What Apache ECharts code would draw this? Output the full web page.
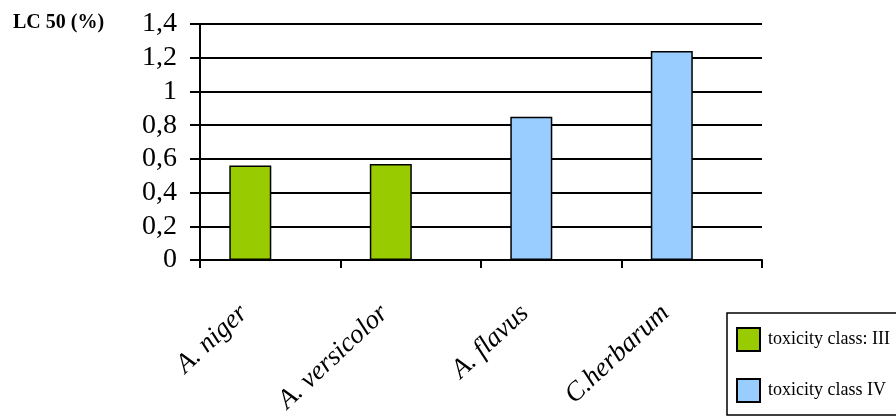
<!DOCTYPE html>
<html>
<head>
    <meta charset="utf-8" />
    <title>LC 50</title>
    <script src="https://cdn.jsdelivr.net/npm/echarts@6/dist/echarts.min.js"></script>
    <style>
        html, body { margin: 0; padding: 0; background: #fff; }
        #chart { width: 896px; height: 419px; }
    </style>
</head>
<body>
    <div id="chart"></div>
    <script>
        // data
        var categories = ['A. niger', 'A. versicolor', 'A. flavus', 'C.herbarum'];
        var classIII = [0.56, 0.57, null, null];
        var classIV = [null, null, 0.85, 1.24];
        var yTicks = { min: 0, max: 1.4, step: 0.2 };

        var serif = "'Liberation Serif', 'Times New Roman', serif";

        var chart = echarts.init(document.getElementById('chart'));
        chart.setOption({
            animation: false,
            title: {
                text: 'LC 50 (%)',
                left: 8,
                top: 8,
                textStyle: { fontFamily: serif, fontSize: 20, fontWeight: 'bold', color: '#000' }
            },
            legend: {
                data: ['toxicity class: III', 'toxicity class IV'],
                orient: 'vertical',
                left: 727,
                top: 313,
                padding: [14, 60, 12, 9],
                itemWidth: 23,
                itemHeight: 23,
                itemGap: 26,
                icon: 'rect',
                borderColor: '#000',
                borderWidth: 1.5,
                textStyle: { fontFamily: serif, fontSize: 18, color: '#000', padding: [0, 0, 0, 3] }
            },
            grid: { left: 200, right: 134, top: 24, bottom: 159, outerBoundsMode: 'none', containLabel: false },
            xAxis: {
                type: 'category',
                data: categories,
                axisLine: { lineStyle: { color: '#000', width: 2 } },
                axisTick: { show: true, length: 8, lineStyle: { color: '#000', width: 2 } },
                axisLabel: {
                    interval: 0,
                    rotate: 43,
                    margin: 25,
                    padding: [0, 36, 0, 0],
                    fontFamily: serif,
                    fontStyle: 'italic',
                    fontSize: 27,
                    color: '#000'
                }
            },
            yAxis: {
                type: 'value',
                min: yTicks.min,
                max: yTicks.max,
                interval: yTicks.step,
                axisLine: { show: true, lineStyle: { color: '#000', width: 2 } },
                axisTick: { show: true, length: 10, lineStyle: { color: '#000', width: 2 } },
                splitLine: { lineStyle: { color: '#000', width: 2 } },
                axisLabel: {
                    margin: 23,
                    fontFamily: serif,
                    fontSize: 28,
                    color: '#000',
                    formatter: function (v) { return String(Math.round(v * 10) / 10).replace('.', ','); }
                }
            },
            series: [{
                name: 'toxicity class: III',
                type: 'bar',
                stack: 'a',
                barWidth: 42,
                data: classIII,
                itemStyle: { color: '#99CC00', borderColor: '#000', borderWidth: 1.5 }
            }, {
                name: 'toxicity class IV',
                type: 'bar',
                stack: 'a',
                barWidth: 42,
                data: classIV,
                itemStyle: { color: '#99CCFF', borderColor: '#000', borderWidth: 1.5 }
            }, {
                // empty slot so the bars sit left of the category centre, as in the original
                name: 'pad',
                type: 'bar',
                stack: 'b',
                barWidth: 42,
                barGap: '-5%',
                data: [null, null, null, null]
            }]
        });
    </script>
</body>
</html>
